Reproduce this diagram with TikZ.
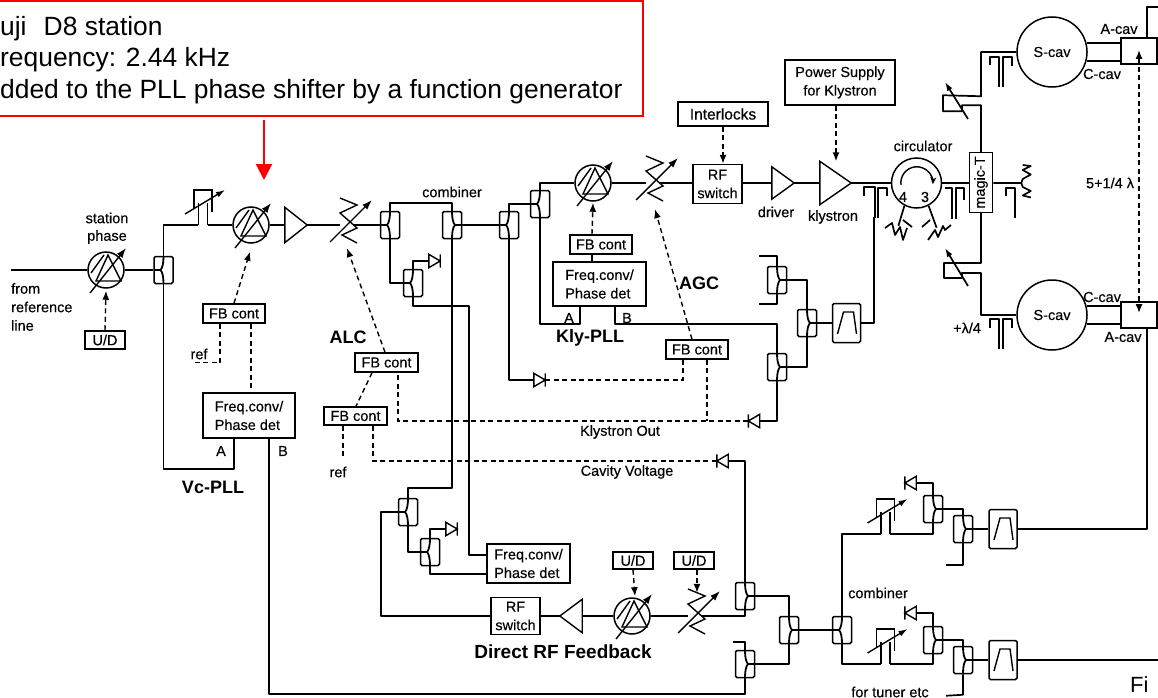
\documentclass[tikz,border=0pt]{standalone}
\usepackage{fontspec}
\usepackage{graphicx}
\setmainfont{Liberation Sans}
\newfontfamily\scanfont[FakeBold=0.35]{Liberation Sans}
\usetikzlibrary{arrows.meta,calc}
\definecolor{rd}{RGB}{250,0,0}
\tikzset{
  every node/.style={font=\scanfont\fontsize{14.5}{18.5}\selectfont,inner sep=0pt},
  wire/.style={line width=1.7pt,line join=round},
  ctl/.style={line width=1.4pt,dash pattern=on 5pt off 3.5pt},
  tipa/.style={-{Latex[length=9pt,width=7pt]}},
  blk/.style={draw,line width=1.5pt,align=center},
  blkl/.style={draw,line width=1.5pt,align=left},
  bold/.style={font=\fontsize{18}{20}\selectfont\bfseries},
  couplerbox/.style={draw,line width=1.5pt,rounded corners=1.5pt,minimum width=19,minimum height=27},
}
% directional couplers: port on the east or the west side
\newcommand\coupE[3]{\node[couplerbox] (#1) at (#2,#3) {};
  \begin{scope}[shift={(#2,#3)},line width=1.8pt]
    \draw (9.5,0) -- (3,0);
    \draw (0,-13.5) .. controls (0,-7) and (1,-2) .. (3,0) .. controls (1,2) and (0,7) .. (0,13.5);
  \end{scope}}
\newcommand\coupW[3]{\node[couplerbox] (#1) at (#2,#3) {};
  \begin{scope}[shift={(#2,#3)},line width=1.8pt]
    \draw (-9.5,0) -- (-3,0);
    \draw (0,-13.5) .. controls (0,-7) and (-1,-2) .. (-3,0) .. controls (-1,2) and (0,7) .. (0,13.5);
  \end{scope}}
% phase shifter
\newcommand\phs[3]{\node[draw,circle,line width=1.5pt,minimum size=36] (#1) at (#2,#3) {};
  \begin{scope}[shift={(#2,#3)},line width=1.4pt]
    \draw[-{Latex[length=10pt,width=7pt]}] (-16,23) -- (20,-22);
    \draw (-15,3) -- (-2,-15);
    \draw (2,-15) -- (-10,11) -- (15,11) -- cycle;
  \end{scope}}
% attenuator
\newcommand\att[3]{\node[minimum width=14,minimum height=46] (#1) at (#2,#3) {};
  \begin{scope}[shift={(#2,#3)},line width=1.4pt]
    \draw (-7,-27) -- (10,-20) -- (-7,-12) -- (10,3) -- (-5,10) -- (10,18);
    \draw[-{Latex[length=10pt,width=7pt]}] (-17,17) -- (25,-25);
  \end{scope}}
% line stretcher
\newcommand\trb[3]{\node[minimum width=9,minimum height=1] (#1) at (#2,#3) {};
  \begin{scope}[shift={(#2,#3)},line width=1.4pt]
    \draw (-4.5,0) -- (-4.5,-22);
    \draw (4.5,0) -- (4.5,-22);
    \draw (-9,-17) -- (-9,-35) -- (9,-35) -- (9,-13);
    \draw[-{Latex[length=9pt,width=6pt]}] (-18,-11) -- (22,-35);
  \end{scope}}
% amplifiers
\newcommand\ampR[5]{\node[minimum width=#4,minimum height=#5] (#1) at (#2,#3) {};
  \draw[line width=1.4pt] (#1.north west) -- (#1.east) -- (#1.south west) -- cycle;}
\newcommand\ampL[5]{\node[minimum width=#4,minimum height=#5] (#1) at (#2,#3) {};
  \draw[line width=1.4pt] (#1.north east) -- (#1.west) -- (#1.south east) -- cycle;}
% diodes
\newcommand\dioR[3]{\node[minimum width=11,minimum height=13] (#1) at (#2,#3) {};
  \draw[line width=1.4pt] (#1.north west) -- (#1.east) -- (#1.south west) -- cycle (#1.north east) -- (#1.south east);}
\newcommand\dioL[3]{\node[minimum width=11,minimum height=13] (#1) at (#2,#3) {};
  \draw[line width=1.4pt] (#1.north east) -- (#1.west) -- (#1.south east) -- cycle (#1.north west) -- (#1.south west);}
% band-pass filter
\newcommand\bpf[3]{\node[draw,line width=1.5pt,rounded corners=1.5pt,minimum width=28,minimum height=39] (#1) at (#2,#3) {};
  \begin{scope}[shift={(#2,#3)},line width=1.4pt]
    \draw (-9,11) -- (-3,-11) -- (7,-11) -- (10,11);
  \end{scope}}
\begin{document}
\begin{tikzpicture}[x=1pt,y=-1pt]
\clip (0,0) rectangle (1158,698);
\useasboundingbox (0,0) rectangle (1158,698);

% note
\node[draw=rd,line width=2pt,minimum width=650,minimum height=115] (note) at (318,58.5) {};
\node[anchor=west,align=left,font=\normalfont\fontsize{26.4}{31.5}\selectfont] (notetext) at (0,60)
  {uji\hspace{0.65em}D8 station\\requency: 2.44 kHz\\dded to the PLL phase shifter by a function generator};
\coordinate (aim) at (264,180);
\draw[rd,line width=2pt,-{Triangle[length=16pt,width=16pt]}] ([yshift=-3pt]note.south -| aim) -- (aim);

% left phase row
\coordinate (ref) at (11,270);
\phs{ps0}{106}{270}
\coupW{c1}{163.5}{270}
\trb{trb1}{203}{225}
\phs{ps1}{251}{225}
\ampR{amp0}{296}{225}{22}{35}
\att{att1}{347}{225}
\coupW{c2}{390}{225}
\coupE{c3}{452}{225}
\coupW{c15}{509}{225}
\coupW{c16}{540}{204}
\coupW{c4}{413}{283}
\dioR{dio1}{434.5}{261}
\phs{ps3}{593}{183}
\att{att3}{653}{183}
\node[blk,minimum width=49,minimum height=39] (rf1) at (717.5,184) {RF\\switch};
\node[blk,minimum width=90,minimum height=24] (intl) at (723,114) {\fontsize{15.5}{18}\selectfont Interlocks};
\ampR{amp1}{783}{183}{22}{32}
\ampR{amp2}{835.5}{183}{31}{43}
\node[blk,minimum width=110,minimum height=45] (psu) at (840,82.5) {Power Supply\\for Klystron};
\node[draw,circle,line width=1.5pt,minimum size=50] (circ) at (916.5,183) {};
\draw[line width=1.4pt,-{Stealth[length=7pt,width=6pt]}] (901,185) arc[start angle=172,end angle=365,radius=16];
\node (n4) at (903,197) {4};
\node (n3) at (925,197) {3};
\node[blk,minimum width=23,minimum height=60] (magic) at (981,182.5) {\rotatebox{90}{magic-T}};

% cavities
\node[draw,circle,line width=1.5pt,minimum size=70] (cavU) at (1052,52) {S-cav};
\node[draw,circle,line width=1.5pt,minimum size=70] (cavL) at (1052,315) {S-cav};
\node[blk,minimum width=36,minimum height=26] (boxU) at (1139,51) {};
\node[blk,minimum width=36,minimum height=26] (boxL) at (1139,315) {};

% klystron PLL
\node[blk,minimum width=62,minimum height=19] (fbq) at (601,244.5) {FB cont};
\node[blkl,minimum width=93,minimum height=44] (fq3) at (599.5,284) {Freq.conv/\\Phase det};
\node[blk,minimum width=62,minimum height=19] (fbk) at (697,349.5) {FB cont};
\dioR{dio6}{539.5}{380}
\dioL{dio7}{754}{421}

% Vc PLL
\node[blk,minimum width=40,minimum height=18] (ud0) at (105,340) {U/D};
\node[blk,minimum width=62,minimum height=19] (fbv) at (234,313.5) {FB cont};
\node[blkl,minimum width=92,minimum height=45] (freqv) at (249,415.5) {Freq.conv/\\Phase det};
\node[blk,minimum width=63,minimum height=19] (fba) at (386.5,362.5) {FB cont};
\node[blk,minimum width=63,minimum height=18] (fb2) at (355.5,416) {FB cont};
\coordinate (va) at ([xshift=-15pt]freqv.south);
\coordinate (vb) at ([xshift=20pt]freqv.south);
\coordinate (ka) at ([xshift=-19.5pt]fq3.south);
\coordinate (kb) at ([xshift=15.5pt]fq3.south);

% couplers at the klystron output
\coupE{c17}{777}{280}
\coupE{c18}{807}{323}
\coupE{c19}{777}{367}
\bpf{bpf1}{846.5}{323}

% direct feedback
\coupW{c5}{408}{512}
\coupW{c6}{430}{552}
\dioR{dio2}{451.5}{529}
\node[blkl,minimum width=83,minimum height=39] (fq2) at (528.5,563.5) {Freq.conv/\\Phase det};
\node[blk,minimum width=49,minimum height=37] (rf2) at (515.5,616) {RF\\switch};
\ampL{amp3}{571}{616}{22}{33}
\phs{ps2}{632}{616}
\att{att2}{695}{616}
\node[blk,minimum width=40,minimum height=17] (ud1) at (633,560.5) {U/D};
\node[blk,minimum width=40,minimum height=17] (ud2) at (694,560.5) {U/D};
\coupE{c7}{745}{596}
\coupE{c8}{745}{664}
\dioL{dio3}{722.5}{461}
\coupE{c9}{789}{630}
\coupW{c10}{842}{630}

% tuner branches
\trb{trb2}{885.5}{534}
\trb{trb3}{885.5}{664}
\coupE{c11}{933}{509}
\coupE{c12}{963}{529}
\coupE{c13}{933}{640}
\coupE{c14}{963}{660}
\dioL{dio4}{910.5}{483}
\dioL{dio5}{910.5}{613}
\bpf{bpf3}{1003}{529}
\bpf{bpf4}{1003}{660}
\coordinate (edge) at (1158,660);

% ---- solid connectors
\begin{scope}[wire]
\draw (ref) -- (ps0.west);
\draw (ps0.east) -- (c1.west);
\draw (c1.north) |- (trb1.west);
\draw (trb1.east) -- (ps1.west);
\draw (ps1.east) -- (amp0.west);
\draw (amp0.east) -- (att1.west);
\draw (att1.east) -- (c2.west);
\draw (c2.north) -- ++(0,-8) -| (c3.north);
\draw (c2.south) |- (c4.west);
\draw (c4.north) |- (dio1.west);
\draw (c4.south) -- ++(0,8.5) -- ++(56,0) |- ([yshift=8.5pt]fq2.west);
\draw (c3.east) -- (c15.west);
\draw (c3.south) -- ++(0,248.5) -| (c5.north);
\draw (c15.north) |- (c16.west);
\draw (c15.south) |- (dio6.west);
\draw (c16.north) |- (ps3.west);
\draw (ps3.east) -- (att3.west);
\draw (att3.east) -- (rf1.west |- att3.east);
\draw (rf1.east |- amp1.west) -- (amp1.west);
\draw (amp1.east) -- (amp2.west);
\draw (amp2.east) -- (circ.west);
\draw (circ.east) -- (magic.west |- circ.east);
\draw (c16.south) -- ++(0,105.5) -| (ka);
\draw (kb) -- ++(0,17) -| (c19.north);
\draw ([xshift=-9pt]fbq.south) -- ([xshift=-7.5pt,yshift=0pt]fq3.north);
\draw (c1.south) -- ++(0,184.5) -| (va);
\draw (vb) -- ++(0,255) -| (c8.south);
\draw (c17.north) -- ++(0,-9.5) -- ++(-18,0);
\draw (c17.south) -- ++(0,9.5) -- ++(-18,0);
\draw (c17.east) -| (c18.north);
\draw (c18.south) |- (c19.east);
\draw (c18.east) -- (bpf1.west);
\draw (bpf1.east) -| ++(13,-106);
\draw (c19.south) |- (dio7.east);
\draw (c5.west) -- ++(-16.5,0) |- (rf2.west);
\draw (c5.south) |- (c6.west);
\draw (c6.north) |- (dio2.west);
\draw (c6.south) |- ([yshift=-10.5pt]fq2.west);
\draw (rf2.east) -- (amp3.west);
\draw (amp3.east) -- (ps2.west);
\draw (ps2.east) -- (att2.west);
\draw (att2.east) -| (c7.south);
\draw (c7.north) |- (dio3.east);
\draw (c7.east) -| (c9.north);
\draw (c8.east) -| (c9.south);
\draw (c8.north) -- ++(0,-8) -- ++(-12,0);
\draw (c9.east) -- (c10.west);
\draw (c10.north) |- (trb2.west);
\draw (c10.south) |- (trb3.west);
\draw (trb2.east) -| (c11.south);
\draw (trb3.east) -| (c13.south);
\draw (c11.north) |- (dio4.east);
\draw (c13.north) |- (dio5.east);
\draw (c11.east) -| (c12.north);
\draw (c13.east) -| (c14.north);
\draw (c12.east) -- (bpf3.west);
\draw (c14.east) -- (bpf4.west);
\draw (c12.south) -- ++(0,21.5) -- ++(-17,0);
\draw (c14.south) -- ++(0,20.5) -- ++(-17,1);
\draw (bpf3.east) -| ([xshift=8pt]boxL.south);
\draw (bpf4.east) -- (edge);
\draw ([xshift=8pt]boxU.north) -- ++(0,-30) -- ++(11,0);
\draw (magic.north) -- ++(0,-46.5) -- ++(-19,0) -- ++(0,6) -- ++(-19,0) -- ++(0,-16) -- ++(38,1) |- (cavU.west);
\draw (magic.south) -- ++(0,49.5) -- ++(-37,0) -- ++(0,15) -- ++(18,0) -- ++(0,-5) -- ++(19,0) |- (cavL.west);
\draw (magic.east |- circ.east) -- ++(28,0) -- ++(1.5,-4) -- ++(8,-4.5) -- ++(-8,-4.5) -- ++(8,-4) -- ++(-8,-1);
\draw (magic.east |- circ.east) ++(28,0) -- ++(1.5,4) -- ++(8,4) -- ++(-8,4.5) -- ++(8,2);
\draw (cavU.15) -- (cavU.15 -| boxU.west);
\draw (cavU.-15) -- (cavU.-15 -| boxU.west);
\draw (cavL.15) -- (cavL.15 -| boxL.west);
\draw (cavL.-15) -- (cavL.-15 -| boxL.west);
% circulator loads
\draw (circ.-118) -- ++(-6,20) (885,228) -- (892,223) -- (895,235) -- (900,227) -- (903,240) -- (907,228);
\draw (circ.-62) -- ++(8,22) (928,240) -- (935,230) -- (938,237) -- (943,226) -- (945,230) -- (951,225);
\draw (903,220) -- (912,227) (922,227) -- (930,220);
% stretcher arms on the magic-T lines
\draw[-{Latex[length=9pt,width=6pt]}] (968,119) -- (945,82);
\draw[-{Latex[length=9pt,width=6pt]}] (968,286) -- (945,248);
% hairpin stubs
\draw (864,196) -- (864,187) -- (875,187) -- (875,218) (878,218) -- (878,188) -- (887,188) -- (887,196);
\draw (945,188) -- (952,188) -- (952,219) (956,219) -- (956,188) -- (964,188) -- (964,200);
\draw (1006,196) -- (1006,188) -- (1015,188) -- (1015,218);
\draw (990,65) -- (990,57) -- (999,57) -- (999,87) (1003,87) -- (1003,57) -- (1012,57) -- (1012,66);
\draw (990,328) -- (990,319) -- (999,319) -- (999,349) (1003,349) -- (1003,319) -- (1012,319) -- (1012,328);
\end{scope}

% ---- dashed control lines
\begin{scope}[ctl]
\draw[tipa] (ud0.north) -- ([yshift=-2pt]ps0.south);
\draw[tipa] (fbv.north) -- ([xshift=-1pt,yshift=-8pt]ps1.south);
\draw ([xshift=17pt]fbv.south) -- ([xshift=2pt]freqv.north);
\draw ([xshift=-14pt]fbv.south) -- ++(0,39) -- ++(-28,0);
\draw[tipa] ([xshift=-1.5pt]fba.north) -- (att1.south);
\draw ([xshift=-14.5pt]fba.south) -- ([xshift=0.5pt]fb2.north);
\draw ([xshift=-12.5pt]fb2.south) -- ++(0,32);
\draw (dio3.west) -| ([xshift=17.5pt]fb2.south);
\draw (dio7.west) -| ([xshift=11.5pt]fba.south);
\draw ([xshift=10pt]fbk.south) -- ([xshift=10pt]fbk.south |- dio7.west);
\draw[tipa] ([xshift=-5pt]fbk.north) -- ([xshift=2pt,yshift=-3pt]att3.south);
\draw (dio6.east) -| ([xshift=-14pt]fbk.south);
\draw[tipa] ([xshift=-9pt]fbq.north) -- ([yshift=-1pt]ps3.south);
\draw[tipa] (intl.south) -- (rf1.north -| intl.south);
\draw[tipa] ([xshift=-4pt]psu.south) -- ([xshift=-4pt]psu.south |- amp2.north);
\draw[tipa] (ud1.south) -- ([xshift=3pt,yshift=1pt]ps2.north);
\draw[tipa] ([xshift=3pt]ud2.south) -- ([xshift=2pt]att2.north);
\draw[{Latex[length=9pt,width=7pt]}-{Latex[length=9pt,width=7pt]}] ([yshift=1pt]boxU.center) -- ([yshift=2pt]boxL.center);
\end{scope}

% ---- labels
\node (t1) at (107,218) {station};
\node (t2) at (107,237) {phase};
\node[anchor=north west,align=left] (t3) at (11,283) {from\\reference\\line};
\node (t4) at (199,354) {ref};
\node (t5) at (338,472) {ref};
\node (t6) at (452,192) {combiner};
\node (t7) at (776,212) {driver};
\node (t8) at (833,217) {klystron};
\node (t9) at (923,146) {circulator};
\node (t10) at (620,432) {Klystron Out};
\node (t11) at (627,472) {Cavity Voltage};
\node (t12) at (878,593) {combiner};
\node (t13) at (890,692) {for tuner etc};
\node (t14) at (1119,29) {A-cav};
\node (t15) at (1102,74) {C-cav};
\node (t16) at (1102,297) {C-cav};
\node (t17) at (1123,337) {A-cav};
\node (t18) at (1110,183) {5+1/4 λ};
\node (t19) at (967,328) {+λ/4};
\node (t20) at (221,451) {A};
\node (t21) at (283,451) {B};
\node (t22) at (569,318) {A};
\node (t23) at (627,318) {B};
\node[bold] (t24) at (213,487) {Vc-PLL};
\node[bold] (t25) at (348,337) {ALC};
\node[bold] (t26) at (590,338) {Kly-PLL};
\node[bold] (t27) at (699,283) {AGC};
\node[font=\fontsize{19}{21}\selectfont\bfseries] (t28) at (563,652) {Direct RF Feedback};
\node[anchor=south west,font=\normalfont\fontsize{22}{24}\selectfont] (t29) at (1130,693) {Fi};
\end{tikzpicture}
\end{document}
